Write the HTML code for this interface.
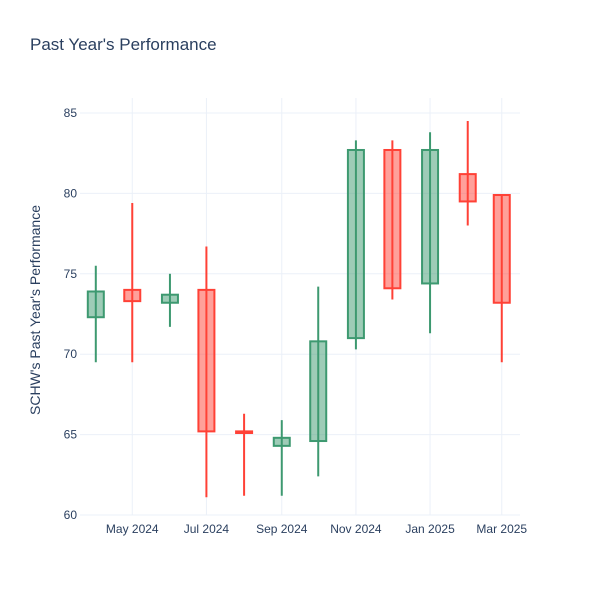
<!DOCTYPE html>
<html><head><meta charset="utf-8"><style>
body{margin:0;background:#fff;font-family:"Liberation Sans","DejaVu Sans",sans-serif;}
svg text{fill:#2a3f5f;font-family:"Liberation Sans","DejaVu Sans",sans-serif;}
</style></head><body>
<svg id="chart" width="600" height="600">
<rect width="600" height="600" fill="#fff"/>
<text x="30" y="50" font-size="17">Past Year's Performance</text>
<g id="grid"></g><g id="candles"></g><g id="axes"></g>
<text transform="translate(40,310) rotate(-90)" text-anchor="middle" font-size="14">SCHW's Past Year's Performance</text>
</svg>
<script>
const dates=["2024-04-01","2024-05-01","2024-06-01","2024-07-01","2024-08-01","2024-09-01","2024-10-01","2024-11-01","2024-12-01","2025-01-01","2025-02-01","2025-03-01"];
const opens=[72.3,74.0,73.2,74.0,65.2,64.3,64.6,71.0,82.7,74.4,81.2,79.9];
const highs=[75.5,79.4,75.0,76.7,66.3,65.9,74.2,83.3,83.3,83.8,84.5,79.9];
const lows=[69.5,69.5,71.7,61.1,61.2,61.2,62.4,70.3,73.4,71.3,78.0,69.5];
const closes=[73.9,73.3,73.7,65.2,65.1,64.8,70.8,82.7,74.1,82.7,79.5,73.2];
const yTicks=[60,65,70,75,80,85];
const xTickDates=["2024-05-01","2024-07-01","2024-09-01","2024-11-01","2025-01-01","2025-03-01"];
const xTickLabels=["May 2024","Jul 2024","Sep 2024","Nov 2024","Jan 2025","Mar 2025"];
const NS="http://www.w3.org/2000/svg";
const L=80,R=520,T=98,B=515;
const d0=Date.parse("2024-03-19"),d1=Date.parse("2025-03-16");
const xs=d=>L+(Date.parse(d)-d0)/(d1-d0)*(R-L);
const ys=v=>515-(v-60)*(402/25);
function mk(tag,at,parent){const e=document.createElementNS(NS,tag);for(const k in at)e.setAttribute(k,at[k]);document.getElementById(parent).appendChild(e);return e;}
yTicks.forEach(v=>{
 const g=mk('line',{x1:L,x2:R,y1:ys(v),y2:ys(v),stroke:'#ebf0f8','stroke-width':1},'grid');
 
 
 const t=mk('text',{x:L-3,y:ys(v)+4,'text-anchor':'end','font-size':12},'axes');t.textContent=v;
 
 
});
xTickDates.forEach((d,i)=>{
 const g=mk('line',{x1:xs(d),x2:xs(d),y1:T,y2:B,stroke:'#ebf0f8','stroke-width':1},'grid');
 
 
 const t=mk('text',{x:xs(d),y:533,'text-anchor':'middle','font-size':12},'axes');t.textContent=xTickLabels[i];
 
 
});
dates.forEach((d,i)=>{
 const up=closes[i]>=opens[i];
 const c=up?'#3D9970':'#FF4136',f=up?'rgba(61,153,112,0.5)':'rgba(255,65,54,0.5)';
 const x=xs(d),w=16;
 const top=ys(Math.max(opens[i],closes[i])),bot=ys(Math.min(opens[i],closes[i]));
 const g=mk('g',{},'candles');
 
 
 const w1=document.createElementNS(NS,'line');
 [['x1',x],['x2',x],['y1',ys(highs[i])],['y2',ys(lows[i])],['stroke',c],['stroke-width',2]].forEach(a=>w1.setAttribute(a[0],a[1]));
 g.appendChild(w1);
 const r=document.createElementNS(NS,'rect');
 [['x',x-w/2],['y',top],['width',w],['height',Math.max(bot-top,1)],['fill',f],['stroke',c],['stroke-width',2]].forEach(a=>r.setAttribute(a[0],a[1]));
 g.appendChild(r);
});
</script>
</body></html>
